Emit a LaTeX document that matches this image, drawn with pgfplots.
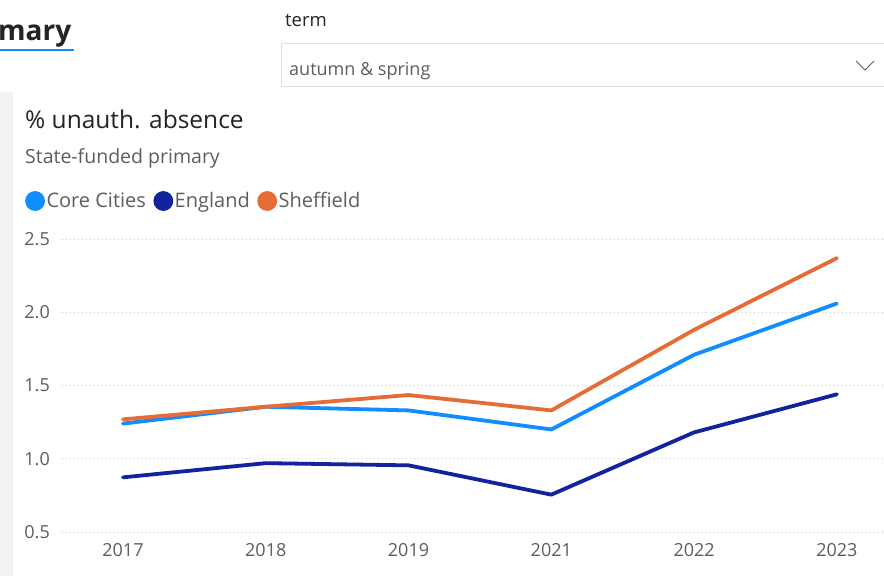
\documentclass[border=0pt]{standalone}
\usepackage{pgfplots}
\pgfplotsset{compat=1.18}
\usepackage{fontspec}
\setmainfont{Open Sans}
\definecolor{cc}{HTML}{118DFF}
\definecolor{eng}{HTML}{12239E}
\definecolor{shef}{HTML}{E66C37}
\definecolor{txt}{HTML}{252423}
\definecolor{sub}{HTML}{605E5C}
\definecolor{gridc}{HTML}{C8C6C4}
\begin{document}
\begin{tikzpicture}[x=1pt,y=1pt]
\useasboundingbox (0,0) rectangle (884,-576);
\fill[white] (0,0) rectangle (884,-576);
\fill[black!5] (0,-92) rectangle (13,-576);
\node[anchor=base west, inner sep=0, font=\fontsize{28}{30}\selectfont\bfseries, text=txt] at (-2,-40) {mary};
\draw[cc, line width=2] (0,-50) -- (74,-50);
\node[anchor=base west, inner sep=0, font=\fontsize{18.5}{20}\selectfont, text=txt] at (285,-26) {term};
\draw[black!12, line width=1] (281,-43) rectangle (890,-86);
\node[anchor=base west, inner sep=0, font=\fontsize{18}{20}\selectfont, text=sub] at (289,-75) {autumn \& spring};
\draw[sub, line width=1] (856,-61) -- (865,-70) -- (874,-61);
\node[anchor=base west, inner sep=0, font=\fontsize{24.5}{26}\selectfont, text=txt] at (25,-128) {\% unauth. absence};
\node[anchor=base west, inner sep=0, font=\fontsize{19.5}{21}\selectfont, text=sub] at (25,-163) {State-funded primary};
\begin{axis}[
  at={(62pt,-532pt)}, anchor=south west,
  scale only axis, width=822pt, height=293pt,
  xmin=-0.427, xmax=5.33, ymin=0.5, ymax=2.5,
  axis line style={draw=none},
  major tick length=0pt,
  ytick={0.5,1,1.5,2,2.5},
  xtick={0,1,2,3,4,5},
  xticklabels={2017,2018,2019,2021,2022,2023},
  yticklabel style={/pgf/number format/.cd, fixed, fixed zerofill, precision=1, /tikz/.cd, inner sep=0pt, xshift=-12pt, anchor=east},
  xticklabel style={inner sep=0pt, yshift=-11pt, anchor=north},
  tick label style={font=\fontsize{18}{20}\selectfont, text=sub},
  /pgf/number format/assume math mode=true,
  ymajorgrids,
  grid style={gridc, dash pattern=on 1pt off 3pt, line width=1pt},
  clip=false,
  legend columns=3,
  legend image code/.code={\fill[#1] (0pt,0pt) circle (8pt);},
  legend style={at={(-0.045,1.1297)}, anchor=west, draw=none, fill=none, inner sep=0pt,
    font=\fontsize{20}{22}\selectfont, text=sub,
    nodes={inner sep=1.5pt},
    /tikz/every even column/.append style={column sep=6pt}},
  every axis plot/.append style={line width=3.8pt, line cap=round, line join=round},
]
\addplot[cc] coordinates {(0,1.24) (1,1.355) (2,1.33) (3,1.20) (4,1.71) (5,2.06)};
\addlegendentry{Core Cities}
\addplot[eng] coordinates {(0,0.873) (1,0.97) (2,0.955) (3,0.755) (4,1.18) (5,1.44)};
\addlegendentry{England}
\addplot[shef] coordinates {(0,1.269) (1,1.355) (2,1.435) (3,1.33) (4,1.88) (5,2.37)};
\addlegendentry{Sheffield}
\end{axis}
\end{tikzpicture}
\end{document}
